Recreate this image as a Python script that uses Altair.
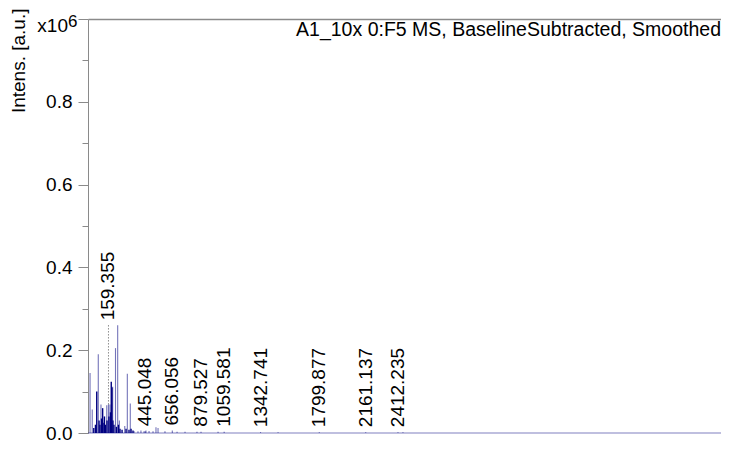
import altair as alt
import pandas as pd

title_text = "A1_10x 0:F5 MS, BaselineSubtracted, Smoothed"
y_title = "Intens. [a.u.]"

# light (single) spectrum peaks: m/z and intensity [a.u.]
peak_mz = [16, 33, 80, 101, 146, 159.355, 171, 192, 214, 231, 244, 286, 306, 329,
           358, 389, 412, 436, 445.048, 451, 475, 506, 529, 545, 599, 656.056, 693,
           755, 848, 879.527, 1012, 1059.581, 1342.741, 1479, 1799.877, 2161.137,
           2412.235, 2451]
peak_int = [145000, 57000, 190000, 69000, 67000, 69000, 69000, 112000, 205000, 260000,
            30000, 17000, 143000, 71000, 5000, 4000, 6000, 4000, 4000, 6000, 5000,
            4000, 14000, 12000, 4000, 6000, 3000, 3000, 3000, 3000, 3000, 3000, 2000,
            2000, 2000, 2000, 2000, 2000]

# dense low-mass cluster (overlapping peaks, drawn dark)
cluster_mz = [45, 58, 68, 86, 93, 105, 114, 117, 128, 135, 148, 163, 175, 181, 186,
              194, 202, 221, 237, 249, 265, 296, 319, 335, 350]
cluster_int = [12000, 20000, 100000, 30000, 20000, 35000, 60000, 25000, 40000, 20000,
               30000, 40000, 50000, 124000, 110000, 30000, 20000, 15000, 20000, 10000,
               8000, 10000, 8000, 10000, 6000]

# annotated peaks
label_mz = [159.355, 445.048, 656.056, 879.527, 1059.581, 1342.741, 1799.877,
            2161.137, 2412.235]
label_text = ["159.355", "445.048", "656.056", "879.527", "1059.581", "1342.741",
              "1799.877", "2161.137", "2412.235"]

y_ticks = [0, 100000, 200000, 300000, 400000, 500000, 600000, 700000, 800000,
           900000, 1000000]

MZ_MAX = 4926
W, H = 633, 414
FONT = "Liberation Sans"
NAVY = "#000080"
GRAY = "#8a8a8a"

peaks = pd.DataFrame({"mz": peak_mz, "inten": peak_int, "zero": 0})
cluster = pd.DataFrame({"mz": cluster_mz, "inten": cluster_int, "zero": 0})
allp = pd.concat([peaks, cluster], ignore_index=True)

# label placement: sit above the highest major peak nearby
sig = allp[allp.inten > 50000]
lab_rows = []
for m, t in zip(label_mz, label_text):
    own = float(allp.loc[(allp.mz - m).abs() < 1e-6, "inten"].max())
    near = sig.loc[(sig.mz - m).abs() <= 75, "inten"]
    base = max([own] + list(near))
    lab_rows.append({"mz": m, "text": t, "peak": own, "inten": base})
labels = pd.DataFrame(lab_rows)
leaders = labels[labels.inten > labels.peak * 1.5]

x_scale = alt.Scale(domain=[0, MZ_MAX], nice=False, zero=False)
y_scale = alt.Scale(domain=[0, 1000000], nice=False)

x_axis = alt.Axis(orient="top", labels=False, ticks=False, grid=False,
                  domainColor=GRAY, domainWidth=1.5, title=None)
y_axis = alt.Axis(
    values=y_ticks, grid=False, title=y_title,
    labelExpr="(datum.value % 200000 === 0 && datum.value < 1000000) ? format(datum.value/1000000, '.1f') : ''",
    tickSize={"condition": {"test": "datum.value % 200000 === 0", "value": 10}, "value": 6},
    tickColor=GRAY, domainColor=GRAY, labelPadding=6,
    titleAngle=270, titleAlign="right", titleBaseline="middle",
    titleX=-70, titleY=-11,
)

X = alt.X("mz:Q", scale=x_scale, axis=x_axis)
Y = alt.Y("inten:Q", scale=y_scale, axis=y_axis)

baseline = alt.Chart(pd.DataFrame({"mz": [0], "mz2": [MZ_MAX], "inten": [0]})).mark_rule(
    color=NAVY, opacity=0.5, strokeWidth=1.2
).encode(x=X, x2="mz2:Q", y=Y)

light = alt.Chart(peaks).mark_rule(color=NAVY, opacity=0.55, strokeWidth=1.1).encode(
    x=X, y=Y, y2="zero:Q"
)
dark = alt.Chart(cluster).mark_rule(color=NAVY, opacity=1, strokeWidth=1.4).encode(
    x=X, y=Y, y2="zero:Q"
)
lead = alt.Chart(leaders).mark_rule(color="#555555", strokeDash=[1, 2], strokeWidth=1).encode(
    x=X, y=Y, y2="peak:Q"
)
lab = alt.Chart(labels).mark_text(
    angle=270, align="left", baseline="middle", dx=5, font=FONT, fontSize=19, color="black"
).encode(x=X, y=Y, text="text:N")

exp_df = pd.DataFrame({"inten": [1000000], "t1": ["x10"], "t2": ["6"]})
exp1 = alt.Chart(exp_df).mark_text(
    align="right", baseline="alphabetic", dy=13, font=FONT, fontSize=19, color="black"
).encode(y=Y, x=alt.value(-20), text="t1:N")
exp2 = alt.Chart(exp_df).mark_text(
    align="left", baseline="alphabetic", dy=8, font=FONT, fontSize=17, color="black"
).encode(y=Y, x=alt.value(-20), text="t2:N")

ttl = alt.Chart(pd.DataFrame({"t": [title_text]})).mark_text(
    align="right", baseline="alphabetic", font=FONT, fontSize=19.5, color="black"
).encode(x=alt.value(W), y=alt.value(17), text="t:N")

chart = alt.layer(baseline, light, dark, lead, lab, exp1, exp2, ttl).properties(
    width=W, height=H,
    autosize=alt.AutoSizeParams(type="none"),
    padding={"left": 80, "top": 11, "right": 0, "bottom": 11},
).configure_view(stroke=None).configure_axis(
    labelFont=FONT, labelFontSize=19, labelColor="black",
    titleFont=FONT, titleFontSize=19, titleFontWeight="normal", titleColor="black",
)

chart.save("out.html", embed_options={"renderer": "svg", "actions": False})
